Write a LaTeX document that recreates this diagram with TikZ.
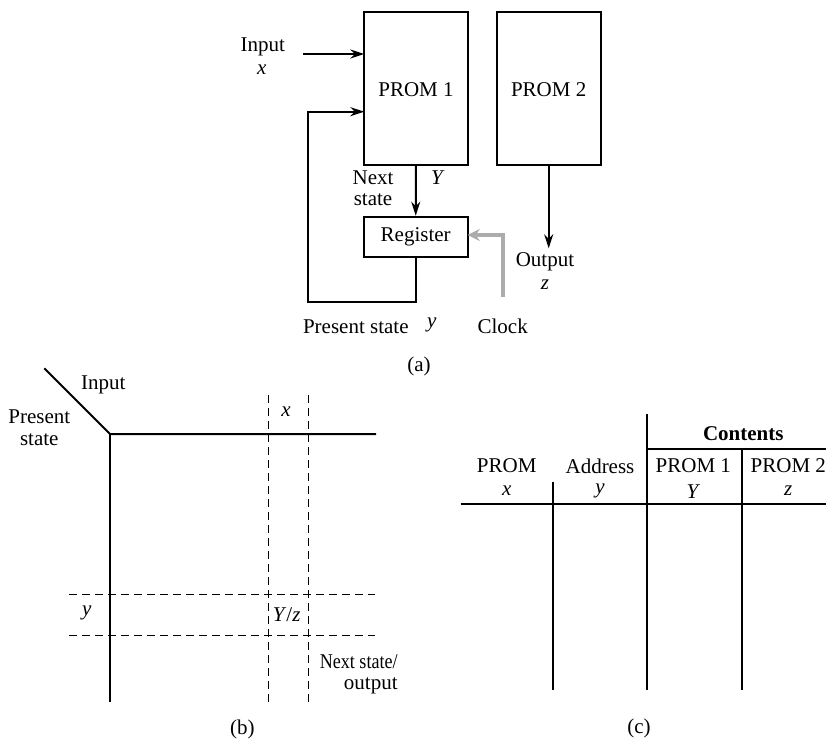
\documentclass[tikz,border=0pt]{standalone}
\usepackage{fontspec}
\usepackage{graphicx}
\setmainfont{Liberation Serif}
\usetikzlibrary{arrows.meta}
\tikzset{
  box/.style={draw, line width=1pt, inner sep=0pt},
  lbl/.style={inner sep=0pt, font=\fontsize{10.5}{12.6}\selectfont},
  wire/.style={line width=1pt},
  arr/.style={line width=1pt, -{Stealth[length=7pt,width=4.5pt]}},
  clk/.style={line width=2pt, gray!65, -{Stealth[length=6pt,width=6pt]}},
  grid/.style={line width=0.5pt, dash pattern=on 4pt off 2.5pt},
  solid1/.style={line width=1pt},
  tab/.style={line width=0.9pt}
}
\begin{document}
\begin{tikzpicture}[x=0.5pt,y=-0.5pt]
\useasboundingbox (0,0) rectangle (826,739);
\begin{scope}
\clip (0,0) rectangle (826,739);
% ---------- (a) ----------
\node[box, minimum width=51.7pt, minimum height=76.7pt] (p1) at (416,88.3) {};
\node[lbl] (p1t) at (416,90) {PROM 1};
\node[box, minimum width=52pt, minimum height=76.7pt] (p2) at (548.7,88.3) {};
\node[lbl] (p2t) at (548.7,90) {PROM 2};
\node[box, minimum width=52pt, minimum height=20pt] (reg) at (415.7,236.7) {};
\node[lbl] (regt) at (415.7,237) {Register};

\coordinate (inx) at (302.7,54);
\coordinate (inxe) at (364.3,54);
\draw[arr] (inx) -- (inxe);
\coordinate (fb) at (307.7,302.3);
\coordinate (fbin) at (364.3,111.7);
\draw[arr] (reg.south) |- (fb) |- (fbin);
\draw[arr] (p1.south) -- (reg.north);
\coordinate (outz) at (548.7,248.3);
\draw[arr] (p2.south) -- (outz);
\coordinate (clk0) at (503.3,296.7);
\coordinate (clkc) at (503.3,235);
\coordinate (clk1) at (467.7,235);
\draw[clk] (clk0) -- (clkc) -- (clk1);

\node[lbl] (tin) at (262.7,46.7) {Input};
\node[lbl] (tx) at (261.7,70) {\textit{x}};
\node[lbl] (tnext) at (373,178) {Next};
\node[lbl] (tstate) at (373,200) {state};
\node[lbl] (tY) at (438,178) {\textit{Y}};
\node[lbl] (tout) at (545,261.7) {Output};
\node[lbl] (tz) at (545,285) {\textit{z}};
\node[lbl] (tps) at (355.8,326.7) {Present state};
\node[lbl] (ty) at (431.7,325) {\textit{y}};
\node[lbl] (tclk) at (502.7,326.7) {Clock};
\node[lbl] (ta) at (419,366.7) {(a)};

% ---------- (b) ----------
\coordinate (bc) at (110,434);
\coordinate (bd) at (44.3,368.3);
\coordinate (bh) at (376,434);
\coordinate (bv) at (110,701.7);
\draw[solid1] (bd) -- (bc) -- (bh);
\draw[solid1] (bc) -- (bv);
\coordinate (dv1a) at (268.3,395); \coordinate (dv1b) at (268.3,701.7);
\coordinate (dv2a) at (308.3,395); \coordinate (dv2b) at (308.3,701.7);
\coordinate (dh1a) at (69.3,594.3); \coordinate (dh1b) at (375,594.3);
\coordinate (dh2a) at (69.3,635);   \coordinate (dh2b) at (375,635);
\draw[grid] (dv1a) -- (dv1b);
\draw[grid] (dv2a) -- (dv2b);
\draw[grid] (dh1a) -- (dh1b);
\draw[grid] (dh2a) -- (dh2b);
\node[lbl] (bin) at (103.3,385) {Input};
\node[lbl] (bpres) at (39.3,416.7) {Present};
\node[lbl] (bstate) at (39.3,440) {state};
\node[lbl] (bx) at (286,412) {\textit{x}};
\node[lbl] (by) at (86.7,613) {\textit{y}};
\node[lbl] (bYz) at (286.7,615) {\textit{Y}/\textit{z}};
\node[lbl, anchor=east] (bns) at (398,661.7) {\scalebox{0.86}[1]{Next state/}};
\node[lbl, anchor=east] (bo) at (398,686) {output};
\node[lbl] (tb) at (242.3,729) {(b)};

% ---------- (c) ----------
\coordinate (c1a) at (647.3,414); \coordinate (c1b) at (647.3,690);
\coordinate (c2a) at (741.7,449); \coordinate (c2b) at (741.7,690);
\coordinate (c3a) at (553.3,481.7); \coordinate (c3b) at (553.3,690);
\coordinate (chA) at (826,449);
\coordinate (chBa) at (460.7,504); \coordinate (chBb) at (826,504);
\draw[tab] (c1a) -- (c1b);
\draw[tab] (c2a) -- (c2b);
\draw[tab] (c3a) -- (c3b);
\draw[tab] (c2a -| c1a) -- (chA);
\draw[tab] (chBa) -- (chBb);
\node[lbl] (cc) at (743.3,433.3) {\textbf{Contents}};
\node[lbl] (cprom) at (506.7,466) {PROM};
\node[lbl] (caddr) at (600,466) {Address};
\node[lbl] (cp1) at (693.3,466) {PROM 1};
\node[lbl] (cp2) at (788.3,466) {PROM 2};
\node[lbl] (cx) at (506.7,490.5) {\textit{x}};
\node[lbl] (cy) at (600,490.5) {\textit{y}};
\node[lbl] (cY) at (693.3,491.5) {\textit{Y}};
\node[lbl] (cz) at (788.3,490.5) {\textit{z}};
\node[lbl] (tc) at (639,728) {(c)};
\end{scope}
\end{tikzpicture}
\end{document}
